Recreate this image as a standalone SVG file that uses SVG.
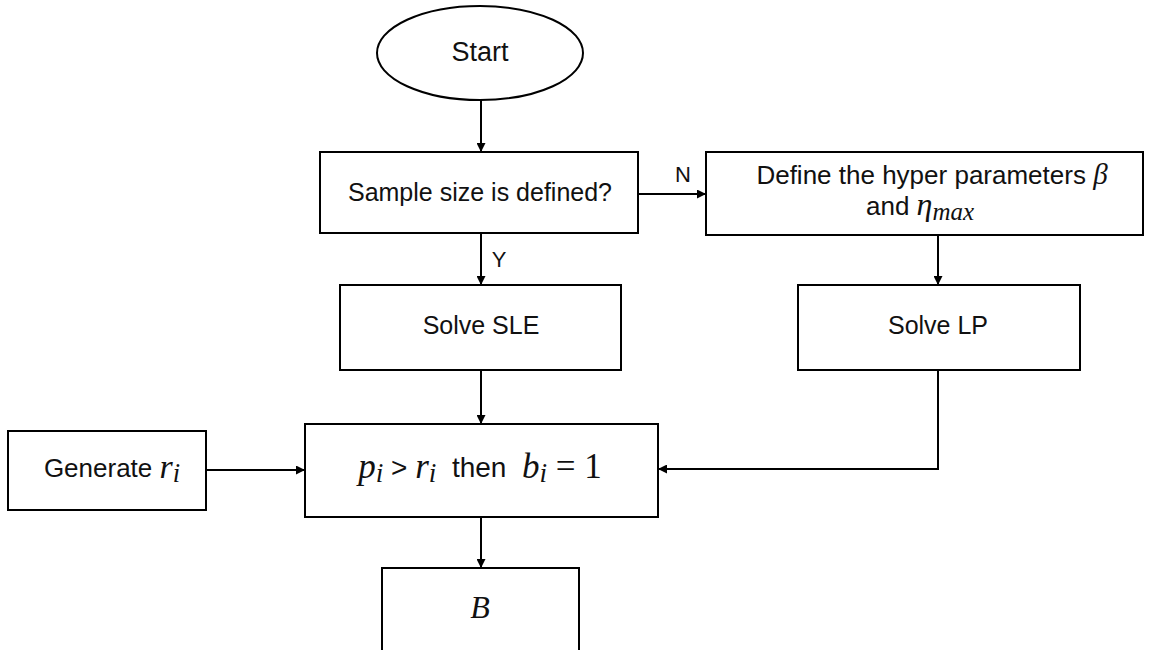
<svg xmlns="http://www.w3.org/2000/svg" width="1161" height="650" viewBox="0 0 1161 650">
<defs>
<marker id="ah" viewBox="0 0 10 10" refX="10" refY="5" markerWidth="9" markerHeight="9" orient="auto" markerUnits="userSpaceOnUse">
<path d="M0,0 L10,5 L0,10 z" fill="#000"/>
</marker>
<style>
.box{fill:#fff;stroke:#000;stroke-width:2}
.t{font-family:"Liberation Sans",Arial,sans-serif;font-size:24px;fill:#111;text-anchor:middle;dominant-baseline:middle}
.m{font-family:"Liberation Serif","DejaVu Serif",serif;font-style:italic}
.n{font-family:"Liberation Serif","DejaVu Serif",serif;font-style:normal}
.sub{font-size:0.78em}
.c{stroke:#000;stroke-width:2;fill:none;marker-end:url(#ah)}
</style>
</defs>
<rect width="1161" height="650" fill="#fff"/>
<g id="connectors">
<line class="c" x1="481" y1="100" x2="481" y2="152"/>
<line class="c" x1="638" y1="194" x2="706" y2="194"/>
<line class="c" x1="481" y1="233" x2="481" y2="285"/>
<line class="c" x1="938" y1="235" x2="938" y2="285"/>
<line class="c" x1="481" y1="370" x2="481" y2="424"/>
<line class="c" x1="206" y1="470" x2="305" y2="470"/>
<polyline class="c" points="938,370 938,469 658,469"/>
<line class="c" x1="481" y1="517" x2="481" y2="568"/>
<text class="t" x="683" y="176" style="font-size:22px">N</text>
<text class="t" x="499" y="261" style="font-size:22px">Y</text>
</g>
<g id="start">
<ellipse cx="480" cy="53" rx="103" ry="47" fill="#fff" stroke="#000" stroke-width="2"/>
<text class="t" x="480" y="54" style="font-size:27px">Start</text>
</g>
<g id="sample">
<rect class="box" x="320" y="152" width="318" height="81"/>
<text class="t" x="480" y="194" style="font-size:25px">Sample size is defined?</text>
</g>
<g id="define">
<rect class="box" x="706" y="152" width="437" height="83"/>
<text class="t" x="932" y="177" style="font-size:26px">Define the hyper parameters <tspan class="m" style="font-size:29px">β</tspan></text>
<text class="t" x="920" y="208" style="font-size:26px">and <tspan class="m" style="font-size:32px">η<tspan class="sub" dy="6">max</tspan></tspan></text>
</g>
<g id="sle">
<rect class="box" x="340" y="285" width="281" height="85"/>
<text class="t" x="481" y="327" style="font-size:25px">Solve SLE</text>
</g>
<g id="lp">
<rect class="box" x="798" y="285" width="282" height="85"/>
<text class="t" x="938" y="327" style="font-size:25px">Solve LP</text>
</g>
<g id="generate">
<rect class="box" x="8" y="431" width="198" height="79"/>
<text class="t" x="112" y="470" style="font-size:26px">Generate <tspan class="m" style="font-size:34px">r<tspan class="sub" dy="6">i</tspan></tspan></text>
</g>
<g id="rule">
<rect class="box" x="305" y="424" width="353" height="93"/>
<text class="t" x="480" y="470" style="font-size:28px" xml:space="preserve"><tspan class="m" style="font-size:35px">p<tspan class="sub" dy="6">i</tspan></tspan><tspan dy="-6"> &gt; </tspan><tspan class="m" style="font-size:35px">r<tspan class="sub" dy="6">i</tspan></tspan><tspan dy="-6">  then  </tspan><tspan class="m" style="font-size:35px">b<tspan class="sub" dy="6">i</tspan></tspan><tspan class="n" dy="-6" style="font-size:35px"> = 1</tspan></text>
</g>
<g id="b">
<rect class="box" x="382" y="568" width="197" height="100"/>
<text class="t m" x="480" y="611" style="font-size:32px">B</text>
</g>
</svg>
